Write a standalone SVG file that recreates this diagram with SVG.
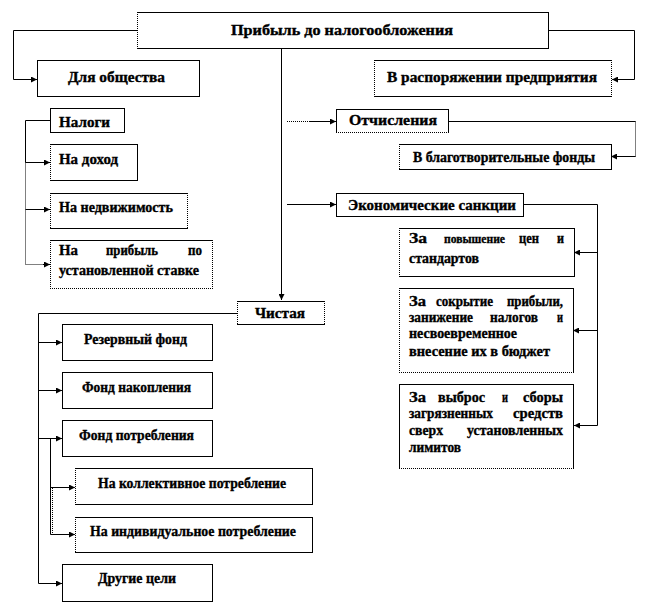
<svg xmlns="http://www.w3.org/2000/svg" width="648" height="612" viewBox="0 0 648 612">
<style>
.bx{fill:#fff;stroke:#000;stroke-width:1}
.wd{fill:none;stroke:#fff;stroke-width:1.2;stroke-dasharray:1 1}
.ln{fill:none;stroke:#000;stroke-width:1}
.dl{fill:none;stroke:#000;stroke-width:1;stroke-dasharray:1 1}
.t{font-family:"Liberation Serif","Times New Roman",serif;font-weight:bold;font-size:14px;fill:#000;stroke:#000;stroke-width:0.35}
</style>
<defs>
<marker id="ah" markerWidth="7" markerHeight="6" refX="6" refY="3" orient="auto" markerUnits="userSpaceOnUse"><path d="M0,0 L6,3 L0,6 Z" fill="#000"/></marker>
</defs>
<rect width="648" height="612" fill="#fff"/>

<g id="connectors">
<path class="ln" d="M137,30.5 H13.5 V79.5 H37" marker-end="url(#ah)"/>
<path class="ln" d="M548,30.5 H634.5 V79.5 H612" marker-end="url(#ah)"/>
<path class="ln" d="M281.5,48 V300" marker-end="url(#ah)"/>
<path class="ln" d="M50,120.5 H25.5 V162.5 H50" marker-end="url(#ah)"/>
<path class="dl" d="M25.5,162.5 V264.5"/>
<path class="ln" d="M25.5,209.5 H50" marker-end="url(#ah)"/>
<path class="dl" d="M25.5,264.5 H44"/>
<path class="ln" d="M43,264.5 H50" marker-end="url(#ah)"/>
<path class="dl" d="M287,121.5 H310"/>
<path class="ln" d="M310,121.5 H336" marker-end="url(#ah)"/>
<path class="ln" d="M448,121.5 H635.5"/>
<path class="dl" d="M635.5,121.5 V156.5"/>
<path class="ln" d="M635.5,156.5 H611" marker-end="url(#ah)"/>
<path class="ln" d="M287,204.5 H336" marker-end="url(#ah)"/>
<path class="ln" d="M523,204.5 H597.5 V425.5 H574" marker-end="url(#ah)"/>
<path class="ln" d="M597.5,252.5 H574" marker-end="url(#ah)"/>
<path class="ln" d="M597.5,330.5 H573" marker-end="url(#ah)"/>
<path class="ln" d="M237,313.5 H38.5 V583.5 H62" marker-end="url(#ah)"/>
<path class="ln" d="M38.5,342.5 H62" marker-end="url(#ah)"/>
<path class="ln" d="M38.5,390.5 H62" marker-end="url(#ah)"/>
<path class="ln" d="M38.5,438.5 H62" marker-end="url(#ah)"/>
<path class="ln" d="M50.5,438.5 V534.5 H75" marker-end="url(#ah)"/>
<path class="ln" d="M50.5,487.5 H75" marker-end="url(#ah)"/>
<path class="dl" d="M52.5,488 V534"/>
</g>

<g id="n-top">
<rect class="bx" x="137.5" y="12.5" width="411" height="36"/>
<path class="wd" d="M137.5,13 V48"/>
<text class="t" x="231" y="35" textLength="222" lengthAdjust="spacingAndGlyphs">Прибыль до налогообложения</text>
</g>

<g id="n-society">
<rect class="bx" x="37.5" y="60.5" width="162" height="36"/>
<text class="t" x="68" y="82" textLength="97" lengthAdjust="spacingAndGlyphs">Для общества</text>
</g>

<g id="n-enterprise">
<rect class="bx" x="374.5" y="60.5" width="237" height="36"/>
<path class="wd" d="M374.5,61 V96"/>
<path class="wd" d="M611.5,61 V96"/>
<text class="t" x="387" y="82" textLength="210" lengthAdjust="spacingAndGlyphs">В распоряжении предприятия</text>
</g>

<g id="n-taxes">
<rect class="bx" x="50.5" y="108.5" width="74" height="24"/>
<text class="t" x="59" y="127" textLength="51" lengthAdjust="spacingAndGlyphs">Налоги</text>
</g>

<g id="n-income">
<rect class="bx" x="50.5" y="144.5" width="87" height="36"/>
<path class="wd" d="M50.5,145 V180"/>
<text class="t" x="59" y="164" textLength="59" lengthAdjust="spacingAndGlyphs">На доход</text>
</g>

<g id="n-property">
<rect class="bx" x="50.5" y="193.5" width="137" height="35"/>
<path class="wd" d="M50.5,194 V228"/>
<path class="wd" d="M187.5,194 V228"/>
<text class="t" x="59" y="212" textLength="114" lengthAdjust="spacingAndGlyphs">На недвижимость</text>
</g>

<g id="n-profit-rate">
<rect class="bx" x="50.5" y="240.5" width="162" height="48"/>
<path class="wd" d="M50.5,241 V288"/>
<path class="wd" d="M212.5,241 V288"/>
<path class="wd" d="M51,288.5 H212"/>
<text class="t" x="59" y="255" textLength="19" lengthAdjust="spacingAndGlyphs">На</text>
<text class="t" x="106" y="255" textLength="52" lengthAdjust="spacingAndGlyphs">прибыль</text>
<text class="t" x="188" y="255" textLength="14" lengthAdjust="spacingAndGlyphs">по</text>
<text class="t" x="59" y="275" textLength="140" lengthAdjust="spacingAndGlyphs">установленной ставке</text>
</g>

<g id="n-deductions">
<rect class="bx" x="336.5" y="109.5" width="112" height="23"/>
<path class="wd" d="M337,132.5 H448"/>
<text class="t" x="349" y="125" textLength="88" lengthAdjust="spacingAndGlyphs">Отчисления</text>
</g>

<g id="n-charity">
<rect class="bx" x="399.5" y="144.5" width="212" height="25"/>
<path class="wd" d="M399.5,145 V169"/>
<text class="t" x="413" y="162" textLength="182" lengthAdjust="spacingAndGlyphs">В благотворительные фонды</text>
</g>

<g id="n-sanctions">
<rect class="bx" x="336.5" y="193.5" width="187" height="23"/>
<text class="t" x="348" y="210" textLength="168" lengthAdjust="spacingAndGlyphs">Экономические санкции</text>
</g>

<g id="n-sanction-prices">
<rect class="bx" x="399.5" y="228.5" width="175" height="48"/>
<path class="wd" d="M399.5,229 V276"/>
<text class="t" x="409" y="243" textLength="18" lengthAdjust="spacingAndGlyphs">За</text>
<text class="t" x="444" y="243" style="font-size:13px" textLength="61" lengthAdjust="spacingAndGlyphs">повышение</text>
<text class="t" x="519" y="243" textLength="20" lengthAdjust="spacingAndGlyphs">цен</text>
<text class="t" x="557" y="243" textLength="7" lengthAdjust="spacingAndGlyphs">и</text>
<text class="t" x="409" y="263" textLength="70" lengthAdjust="spacingAndGlyphs">стандартов</text>
</g>

<g id="n-sanction-concealment">
<rect class="bx" x="399.5" y="288.5" width="174" height="84"/>
<path class="wd" d="M399.5,289 V372"/>
<path class="wd" d="M400,372.5 H573"/>
<text class="t" x="409" y="306" textLength="17" lengthAdjust="spacingAndGlyphs">За</text>
<text class="t" x="436" y="306" textLength="57" lengthAdjust="spacingAndGlyphs">сокрытие</text>
<text class="t" x="507" y="306" textLength="56" lengthAdjust="spacingAndGlyphs">прибыли,</text>
<text class="t" x="409" y="322" textLength="64" lengthAdjust="spacingAndGlyphs">занижение</text>
<text class="t" x="490" y="322" textLength="48" lengthAdjust="spacingAndGlyphs">налогов</text>
<text class="t" x="557" y="322" textLength="6" lengthAdjust="spacingAndGlyphs">и</text>
<text class="t" x="409" y="338" textLength="108" lengthAdjust="spacingAndGlyphs">несвоевременное</text>
<text class="t" x="409" y="356" textLength="141" lengthAdjust="spacingAndGlyphs">внесение их в бюджет</text>
</g>

<g id="n-sanction-emissions">
<rect class="bx" x="399.5" y="384.5" width="174" height="84"/>
<path class="wd" d="M400,468.5 H573"/>
<text class="t" x="409" y="402" textLength="17" lengthAdjust="spacingAndGlyphs">За</text>
<text class="t" x="438" y="402" textLength="47" lengthAdjust="spacingAndGlyphs">выброс</text>
<text class="t" x="502" y="402" textLength="6" lengthAdjust="spacingAndGlyphs">и</text>
<text class="t" x="523" y="402" textLength="40" lengthAdjust="spacingAndGlyphs">сборы</text>
<text class="t" x="409" y="418" textLength="84" lengthAdjust="spacingAndGlyphs">загрязненных</text>
<text class="t" x="513" y="418" textLength="50" lengthAdjust="spacingAndGlyphs">средств</text>
<text class="t" x="409" y="435" textLength="34" lengthAdjust="spacingAndGlyphs">сверх</text>
<text class="t" x="467" y="435" textLength="96" lengthAdjust="spacingAndGlyphs">установленных</text>
<text class="t" x="409" y="452" textLength="52" lengthAdjust="spacingAndGlyphs">лимитов</text>
</g>

<g id="n-net">
<rect class="bx" x="237.5" y="301.5" width="87" height="23"/>
<path class="wd" d="M237.5,302 V324"/>
<path class="wd" d="M324.5,302 V324"/>
<text class="t" x="255" y="318" textLength="50" lengthAdjust="spacingAndGlyphs">Чистая</text>
</g>

<g id="n-reserve">
<rect class="bx" x="62.5" y="324.5" width="150" height="36"/>
<text class="t" x="84" y="344" textLength="103" lengthAdjust="spacingAndGlyphs">Резервный фонд</text>
</g>

<g id="n-accumulation">
<rect class="bx" x="62.5" y="372.5" width="150" height="36"/>
<text class="t" x="82" y="392" textLength="109" lengthAdjust="spacingAndGlyphs">Фонд накопления</text>
</g>

<g id="n-consumption">
<rect class="bx" x="62.5" y="420.5" width="150" height="36"/>
<text class="t" x="79" y="440" textLength="115" lengthAdjust="spacingAndGlyphs">Фонд потребления</text>
</g>

<g id="n-collective">
<rect class="bx" x="75.5" y="468.5" width="237" height="36"/>
<path class="wd" d="M75.5,469 V504"/>
<text class="t" x="98" y="488" textLength="188" lengthAdjust="spacingAndGlyphs">На коллективное потребление</text>
</g>

<g id="n-individual">
<rect class="bx" x="75.5" y="517.5" width="237" height="35"/>
<path class="wd" d="M75.5,518 V552"/>
<text class="t" x="90" y="536" textLength="206" lengthAdjust="spacingAndGlyphs">На индивидуальное потребление</text>
</g>

<g id="n-other">
<rect class="bx" x="62.5" y="564.5" width="150" height="37"/>
<text class="t" x="98" y="583" textLength="78" lengthAdjust="spacingAndGlyphs">Другие цели</text>
</g>
</svg>
